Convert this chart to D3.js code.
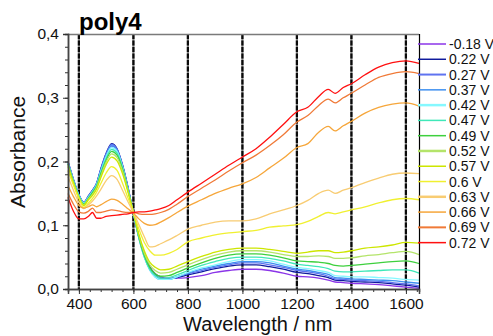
<!DOCTYPE html>
<html>
<head>
<meta charset="utf-8">
<script src="https://cdn.jsdelivr.net/npm/d3@7"></script>
<style>
  html, body { margin: 0; padding: 0; background: #fff; }
  svg { display: block; font-family: Arial, "Liberation Sans", sans-serif; }
</style>
</head>
<body>
<svg id="chart" width="493" height="336"></svg>
<script>
// Wavelength grid (nm) shared by every spectrum
const wavelengths = [360, 380, 400, 418, 435, 450, 465, 480, 500, 520,
  540, 560, 580, 600, 620, 640, 660, 680, 700, 730,
  760, 800, 850, 900, 950, 1000, 1050, 1100, 1150, 1200,
  1240, 1280, 1315, 1340, 1370, 1400, 1450, 1500, 1550, 1600, 1648];

// Absorbance spectra, one per applied potential
const absM018 = [0.197, 0.170, 0.147, 0.135, 0.145, 0.154, 0.165, 0.186, 0.210, 0.224,
  0.217, 0.193, 0.158, 0.118, 0.082, 0.055, 0.035, 0.024, 0.019, 0.017,
  0.017, 0.018, 0.021, 0.026, 0.029, 0.031, 0.031, 0.029, 0.025, 0.020,
  0.019, 0.017, 0.014, 0.011, 0.010, 0.009, 0.008, 0.007, 0.005, 0.003, 0.001];
const abs022 = [0.200, 0.172, 0.148, 0.136, 0.146, 0.155, 0.166, 0.188, 0.213, 0.228,
  0.220, 0.195, 0.160, 0.119, 0.082, 0.054, 0.034, 0.022, 0.017, 0.016,
  0.018, 0.022, 0.027, 0.032, 0.036, 0.038, 0.038, 0.035, 0.031, 0.026,
  0.024, 0.021, 0.018, 0.014, 0.013, 0.012, 0.011, 0.010, 0.008, 0.006, 0.003];
const abs027 = [0.200, 0.172, 0.148, 0.136, 0.146, 0.155, 0.166, 0.187, 0.212, 0.227,
  0.219, 0.194, 0.159, 0.119, 0.081, 0.052, 0.032, 0.020, 0.016, 0.016,
  0.019, 0.024, 0.029, 0.034, 0.038, 0.041, 0.041, 0.038, 0.034, 0.029,
  0.027, 0.024, 0.020, 0.016, 0.015, 0.014, 0.013, 0.012, 0.010, 0.008, 0.005];
const abs037 = [0.199, 0.171, 0.148, 0.135, 0.145, 0.154, 0.165, 0.186, 0.210, 0.225,
  0.218, 0.193, 0.158, 0.119, 0.080, 0.050, 0.030, 0.019, 0.015, 0.015,
  0.019, 0.025, 0.031, 0.036, 0.040, 0.043, 0.043, 0.041, 0.036, 0.031,
  0.029, 0.026, 0.023, 0.018, 0.017, 0.016, 0.015, 0.014, 0.013, 0.011, 0.009];
const abs042 = [0.198, 0.170, 0.147, 0.135, 0.144, 0.153, 0.164, 0.184, 0.208, 0.222,
  0.216, 0.192, 0.157, 0.119, 0.080, 0.050, 0.030, 0.019, 0.015, 0.015,
  0.019, 0.026, 0.033, 0.038, 0.043, 0.046, 0.046, 0.044, 0.039, 0.034,
  0.032, 0.029, 0.026, 0.021, 0.020, 0.019, 0.019, 0.018, 0.017, 0.015, 0.014];
const abs047 = [0.197, 0.169, 0.146, 0.134, 0.143, 0.152, 0.163, 0.182, 0.205, 0.219,
  0.213, 0.190, 0.156, 0.119, 0.081, 0.051, 0.031, 0.021, 0.017, 0.018,
  0.022, 0.029, 0.037, 0.043, 0.048, 0.050, 0.050, 0.048, 0.044, 0.039,
  0.037, 0.035, 0.032, 0.028, 0.027, 0.027, 0.028, 0.029, 0.030, 0.030, 0.025];
const abs049 = [0.196, 0.168, 0.145, 0.133, 0.142, 0.151, 0.161, 0.180, 0.202, 0.216,
  0.210, 0.188, 0.155, 0.120, 0.082, 0.053, 0.034, 0.024, 0.020, 0.021,
  0.026, 0.033, 0.041, 0.048, 0.053, 0.055, 0.055, 0.053, 0.049, 0.044,
  0.043, 0.042, 0.040, 0.037, 0.036, 0.037, 0.039, 0.041, 0.043, 0.044, 0.040];
const abs052 = [0.194, 0.167, 0.144, 0.132, 0.141, 0.149, 0.159, 0.177, 0.199, 0.212,
  0.206, 0.185, 0.154, 0.120, 0.084, 0.056, 0.038, 0.029, 0.025, 0.026,
  0.031, 0.038, 0.046, 0.053, 0.058, 0.060, 0.060, 0.058, 0.054, 0.051,
  0.051, 0.052, 0.051, 0.048, 0.048, 0.049, 0.052, 0.054, 0.057, 0.059, 0.054];
const abs057 = [0.192, 0.166, 0.143, 0.131, 0.140, 0.147, 0.157, 0.174, 0.195, 0.207,
  0.201, 0.181, 0.152, 0.120, 0.086, 0.060, 0.042, 0.034, 0.030, 0.031,
  0.036, 0.043, 0.051, 0.058, 0.062, 0.064, 0.064, 0.062, 0.059, 0.056,
  0.058, 0.060, 0.060, 0.057, 0.058, 0.060, 0.064, 0.066, 0.069, 0.073, 0.072];
const abs060 = [0.186, 0.163, 0.142, 0.128, 0.135, 0.142, 0.152, 0.165, 0.182, 0.192,
  0.186, 0.166, 0.143, 0.121, 0.094, 0.073, 0.060, 0.053, 0.053, 0.056,
  0.062, 0.074, 0.080, 0.085, 0.088, 0.090, 0.092, 0.097, 0.099, 0.101,
  0.106, 0.114, 0.120, 0.118, 0.121, 0.124, 0.129, 0.135, 0.140, 0.142, 0.140];
const abs063 = [0.176, 0.155, 0.136, 0.126, 0.132, 0.138, 0.146, 0.156, 0.170, 0.178,
  0.172, 0.155, 0.137, 0.120, 0.101, 0.082, 0.066, 0.067, 0.071, 0.077,
  0.084, 0.094, 0.100, 0.105, 0.107, 0.107, 0.110, 0.118, 0.124, 0.131,
  0.139, 0.150, 0.155, 0.150, 0.155, 0.159, 0.167, 0.174, 0.180, 0.182, 0.181];
const abs066 = [0.162, 0.145, 0.131, 0.127, 0.129, 0.132, 0.129, 0.132, 0.137, 0.141,
  0.139, 0.133, 0.126, 0.119, 0.110, 0.103, 0.100, 0.101, 0.105, 0.112,
  0.120, 0.130, 0.140, 0.150, 0.158, 0.165, 0.175, 0.190, 0.205, 0.222,
  0.228, 0.246, 0.255, 0.248, 0.256, 0.263, 0.276, 0.285, 0.290, 0.292, 0.287];
const abs069 = [0.150, 0.133, 0.121, 0.119, 0.122, 0.127, 0.120, 0.120, 0.122, 0.124,
  0.123, 0.121, 0.120, 0.120, 0.118, 0.117, 0.117, 0.118, 0.120, 0.125,
  0.133, 0.145, 0.158, 0.171, 0.185, 0.198, 0.210, 0.225, 0.242, 0.262,
  0.272, 0.288, 0.298, 0.292, 0.300, 0.307, 0.320, 0.332, 0.338, 0.341, 0.338];
const abs072 = [0.144, 0.122, 0.110, 0.110, 0.114, 0.120, 0.111, 0.111, 0.114, 0.115,
  0.116, 0.117, 0.118, 0.120, 0.121, 0.121, 0.122, 0.124, 0.126, 0.131,
  0.140, 0.152, 0.166, 0.180, 0.194, 0.207, 0.220, 0.238, 0.258, 0.278,
  0.285, 0.302, 0.313, 0.307, 0.316, 0.322, 0.336, 0.348, 0.355, 0.358, 0.354];

const potentials = ["-0.18 V", "0.22 V", "0.27 V", "0.37 V", "0.42 V", "0.47 V", "0.49 V",
  "0.52 V", "0.57 V", "0.6 V", "0.63 V", "0.66 V", "0.69 V", "0.72 V"];
const spectra = [absM018, abs022, abs027, abs037, abs042, abs047, abs049,
  abs052, abs057, abs060, abs063, abs066, abs069, abs072];
const colors = ["#8b35e8", "#0f1a9c", "#5f73f0", "#3f90f0", "#86f8ff", "#3fe8b8", "#3ed03e",
  "#b4e46a", "#cde600", "#f0f030", "#f8cc72", "#f6a63a", "#f07a38", "#ff1010"];
const legendWidths = [1.5, 1.5, 2, 1.5, 2.5, 1.5, 1.5, 2.5, 1.5, 1.5, 2.5, 1.5, 2, 1.5];

const yTicks = [0.0, 0.1, 0.2, 0.3, 0.4];
const xTicks = [400, 600, 800, 1000, 1200, 1400, 1600];

const svg = d3.select("#chart");
const plot = { left: 68, right: 419, top: 34, bottom: 289 };

const x = d3.scaleLinear().domain([360, 1648]).range([plot.left, plot.right]);
const y = d3.scaleLinear().domain([0, 0.4]).range([plot.bottom, plot.top]);

// Vertical reference lines at each labelled wavelength: grey core with dense black dashes
const grid = svg.append("g");
grid.selectAll("line.core")
  .data(xTicks)
  .join("line")
  .attr("class", "core")
  .attr("x1", d => x(d)).attr("x2", d => x(d))
  .attr("y1", plot.top).attr("y2", plot.bottom)
  .attr("stroke", "#888")
  .attr("stroke-width", 2.2);
grid.selectAll("line.dash")
  .data(xTicks)
  .join("line")
  .attr("class", "dash")
  .attr("x1", d => x(d)).attr("x2", d => x(d))
  .attr("y1", plot.top).attr("y2", plot.bottom)
  .attr("stroke", "#0a0a0a")
  .attr("stroke-width", 2.2)
  .attr("stroke-dasharray", "5,1.5");

// Spectra
const line = d3.line()
  .x((d, i) => x(wavelengths[i]))
  .y(d => y(d))
  .curve(d3.curveMonotoneX);

svg.append("g")
  .selectAll("path")
  .data(spectra)
  .join("path")
  .attr("d", d => line(d))
  .attr("fill", "none")
  .attr("stroke", (d, i) => colors[i])
  .attr("stroke-width", 1.3)
  .attr("stroke-linejoin", "round");

// Frame: top border in grey, right border in black
svg.append("line")
  .attr("x1", plot.left).attr("x2", plot.right)
  .attr("y1", plot.top + 0.5).attr("y2", plot.top + 0.5)
  .attr("stroke", "#7a7a7a").attr("stroke-width", 1.5);
svg.append("line")
  .attr("x1", plot.right + 0.5).attr("x2", plot.right + 0.5)
  .attr("y1", plot.top).attr("y2", plot.bottom)
  .attr("stroke", "#000").attr("stroke-width", 1.2);

// Axes
const fmtY = v => d3.format(".1f")(v).replace(".", ",");

const yAxis = d3.axisLeft(y).tickValues(yTicks).tickFormat(fmtY).tickSize(5).tickPadding(4);
const yMinor = d3.axisLeft(y).tickValues(d3.range(0, 0.401, 0.02)).tickSize(3);
const xAxis = d3.axisBottom(x).tickValues(xTicks).tickFormat(d3.format("d")).tickSize(5).tickPadding(4);
const xMinor = d3.axisBottom(x).tickValues(d3.range(360, 1648, 40)).tickSize(3);

function styleAxis(g) {
  g.select(".domain").attr("stroke", "#444").attr("stroke-width", 1.5);
  g.selectAll(".tick line").attr("stroke", "#333").attr("stroke-width", 1);
  g.selectAll(".tick text").attr("fill", "#111").style("font-size", "15.5px")
    .style("font-family", "Arial, 'Liberation Sans', sans-serif");
}
function stripLabels(g) {
  g.selectAll(".tick text").remove();
}

svg.append("g").attr("transform", `translate(${plot.left},0)`).call(yMinor).call(stripLabels).call(styleAxis);
svg.append("g").attr("transform", `translate(${plot.left},0)`).call(yAxis).call(styleAxis);
svg.append("g").attr("transform", `translate(0,${plot.bottom})`).call(xMinor).call(stripLabels).call(styleAxis);
svg.append("g").attr("transform", `translate(0,${plot.bottom})`).call(xAxis).call(styleAxis);

// Axis titles and heading
svg.append("text")
  .attr("x", 183).attr("y", 330.5)
  .attr("fill", "#111")
  .style("font-size", "20px")
  .text("Wavelength / nm");

svg.append("text")
  .attr("transform", "translate(25,208) rotate(-90)")
  .attr("fill", "#111")
  .style("font-size", "21px")
  .text("Absorbance");

svg.append("text")
  .attr("x", 79).attr("y", 30)
  .attr("fill", "#000")
  .style("font-size", "24px")
  .style("font-weight", "bold")
  .text("poly4");

// Legend
const legend = svg.append("g")
  .selectAll("g")
  .data(potentials)
  .join("g")
  .attr("transform", (d, i) => `translate(0,${44 + i * 15.28})`);

legend.append("line")
  .attr("x1", 418).attr("x2", 446)
  .attr("stroke", (d, i) => colors[i])
  .attr("stroke-width", (d, i) => legendWidths[i]);

legend.append("text")
  .attr("x", 449).attr("y", 5)
  .attr("fill", "#111")
  .style("font-size", "14px")
  .text(d => d);
</script>
</body>
</html>
